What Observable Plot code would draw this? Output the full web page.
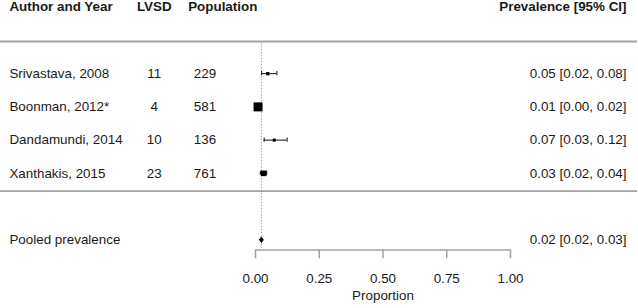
<!DOCTYPE html>
<html>
<head>
<meta charset="utf-8">
<script src="https://cdn.jsdelivr.net/npm/d3@7"></script>
<script src="https://cdn.jsdelivr.net/npm/@observablehq/plot@0.6"></script>
<style>
  html, body { margin: 0; padding: 0; background: #fff; }
  #chart svg { display: block; }
</style>
</head>
<body>
<div id="chart"></div>
<script>
// ---- data ----
const authors = ["Srivastava, 2008", "Boonman, 2012*", "Dandamundi, 2014", "Xanthakis, 2015"];
const lvsd = [11, 4, 10, 23];
const population = [229, 581, 136, 761];
const estimate = [0.048, 0.010, 0.0735, 0.032];
const lower = [0.024, 0.002, 0.034, 0.019];
const upper = [0.084, 0.018, 0.124, 0.044];
const weight = [6, 45, 5, 17];
const pooledLabel = "Pooled prevalence";
const pooledEstimate = 0.023;
const pooledLower = 0.016;
const pooledUpper = 0.031;
const headers = ["Author and Year", "LVSD", "Population", "Prevalence [95% CI]"];
const xTicks = [0, 0.25, 0.5, 0.75, 1];
const xLabel = "Proportion";

// ---- derived tables ----
const f2 = v => v.toFixed(2);
const studies = authors.map((a, i) => ({
  row: i, author: a, lvsd: lvsd[i], population: population[i],
  est: estimate[i], lo: lower[i], hi: upper[i], weight: weight[i],
  ci: `${f2(estimate[i])} [${f2(lower[i])}, ${f2(upper[i])}]`
}));
const pooledRow = 5;
const pooled = [{row: pooledRow, author: pooledLabel, est: pooledEstimate, lo: pooledLower, hi: pooledUpper,
  ci: `${f2(pooledEstimate)} [${f2(pooledLower)}, ${f2(pooledUpper)}]`}];
const dh = 0.085;
const diamond = [
  {x: pooledLower, y: pooledRow}, {x: pooledEstimate, y: pooledRow - dh},
  {x: pooledUpper, y: pooledRow}, {x: pooledEstimate, y: pooledRow + dh},
  {x: pooledLower, y: pooledRow}
];
const headerRow = -2;

// column anchors (in x-scale units)
const colAuthor = -0.965, colLvsd = -0.397, colPopHead = -0.264, colPop = -0.242, colRight = 1.455;

const FONT = 13.4;
const TXT = "#1a1a1a";
const GRAY = "#a3a3a3";
const cap = 0.065;

const chart = Plot.plot({
  width: 638,
  height: 308,
  marginLeft: 255,
  marginRight: 128,
  marginTop: 0,
  marginBottom: 58.7,
  x: {domain: [0, 1], label: null},
  y: {type: "linear", domain: [-2, 5], range: [6.7, 239.3], axis: null},
  r: {type: "sqrt", domain: [0, 100], range: [0, 7.6]},
  style: {fontFamily: "'Liberation Sans', Arial, sans-serif", fontSize: FONT + "px", color: TXT, background: "#fff"},
  marks: [
    // horizontal separators
    Plot.ruleY([-0.968], {x1: -1, x2: 1.498, stroke: GRAY, strokeWidth: 2}),
    Plot.ruleY([3.537], {x1: -1, x2: 1.498, stroke: GRAY, strokeWidth: 1.7}),
    // reference line at pooled estimate
    Plot.ruleX([pooledEstimate], {y1: -0.898, y2: 5.262, stroke: "#777", strokeWidth: 1, strokeDasharray: "1,2"}),
    // axis
    Plot.ruleY([5.307], {x1: 0, x2: 1, stroke: GRAY, strokeWidth: 1.5}),
    Plot.axisX({ticks: xTicks, tickFormat: d => d.toFixed(2), tickSize: 9, tickPadding: 15,
      stroke: GRAY, strokeWidth: 1.5, fill: TXT, fontSize: FONT, label: null}),
    Plot.text([xLabel], {frameAnchor: "bottom", x: 0.5, dy: 50.5, fill: TXT, fontSize: FONT}),
    // headers
    Plot.text([headers[0]], {x: colAuthor, y: headerRow, textAnchor: "start", fontWeight: "bold", fill: TXT, fontSize: FONT}),
    Plot.text([headers[1]], {x: colLvsd, y: headerRow, textAnchor: "middle", fontWeight: "bold", fill: TXT, fontSize: FONT}),
    Plot.text([headers[2]], {x: colPopHead, y: headerRow, textAnchor: "start", fontWeight: "bold", fill: TXT, fontSize: FONT}),
    Plot.text([headers[3]], {x: colRight, y: headerRow, textAnchor: "end", fontWeight: "bold", fill: TXT, fontSize: FONT}),
    // study columns
    Plot.text(studies, {x: colAuthor, y: "row", text: "author", textAnchor: "start", fill: TXT, fontSize: FONT}),
    Plot.text(studies, {x: colLvsd, y: "row", text: d => String(d.lvsd), textAnchor: "middle", fill: TXT, fontSize: FONT}),
    Plot.text(studies, {x: colPop, y: "row", text: d => String(d.population), textAnchor: "start", fill: TXT, fontSize: FONT}),
    Plot.text(studies, {x: colRight, y: "row", text: "ci", textAnchor: "end", fill: TXT, fontSize: FONT}),
    Plot.text(pooled, {x: colAuthor, y: "row", text: "author", textAnchor: "start", fill: TXT, fontSize: FONT}),
    Plot.text(pooled, {x: colRight, y: "row", text: "ci", textAnchor: "end", fill: TXT, fontSize: FONT}),
    // confidence intervals
    Plot.ruleY(studies, {y: "row", x1: "lo", x2: "hi", stroke: "#111", strokeWidth: 1}),
    Plot.ruleX(studies, {x: "lo", y1: d => d.row - cap, y2: d => d.row + cap, stroke: "#111", strokeWidth: 1}),
    Plot.ruleX(studies, {x: "hi", y1: d => d.row - cap, y2: d => d.row + cap, stroke: "#111", strokeWidth: 1}),
    // study squares
    Plot.dot(studies, {x: "est", y: "row", r: "weight", symbol: "square", fill: "#000", stroke: null}),
    // pooled diamond
    Plot.line(diamond, {x: "x", y: "y", fill: "#000", stroke: "#000", strokeWidth: 0.8, curve: "linear-closed"})
  ]
});
document.getElementById("chart").appendChild(chart);
</script>
</body>
</html>
